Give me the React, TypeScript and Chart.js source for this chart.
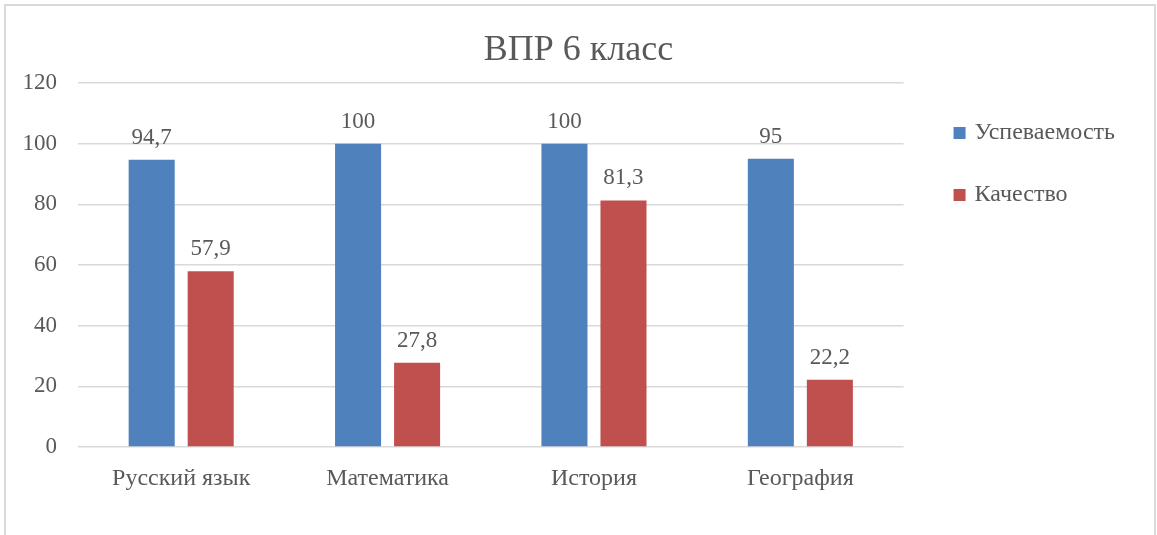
import React, { useEffect, useRef } from "react";
import { Chart, registerables } from "chart.js";

Chart.register(...registerables);

const categories = ["Русский язык", "Математика", "История", "География"];
const uspevaemost = [94.7, 100, 100, 95];
const kachestvo = [57.9, 27.8, 81.3, 22.2];
const seriesNames = ["Успеваемость", "Качество"];
const yTicks = [0, 20, 40, 60, 80, 100, 120];
const titleText = "ВПР 6 класс";

const FONT = "'Liberation Serif', 'Times New Roman', serif";
const TEXT = "#595959";
const LEGEND_GAP = 15;

const fmt = (v: number) => String(v).replace(".", ",");

const dataLabels = {
  id: "dataLabels",
  afterDatasetsDraw(chart: any) {
    const ctx = chart.ctx;
    ctx.save();
    ctx.font = `23px ${FONT}`;
    ctx.fillStyle = TEXT;
    ctx.textAlign = "center";
    ctx.textBaseline = "alphabetic";
    chart.data.datasets.forEach((ds: any, i: number) => {
      const meta = chart.getDatasetMeta(i);
      meta.data.forEach((el: any, j: number) => {
        ctx.fillText(fmt(ds.data[j]), el.x, el.y - 16);
      });
    });
    ctx.restore();
  },
};

const layoutTweak = {
  id: "layoutTweak",
  afterLayout(chart: any) {
    const lg = chart.legend;
    if (lg) {
      lg.left += LEGEND_GAP;
      lg.right += LEGEND_GAP;
    }
    const tb = chart.titleBlock;
    if (tb) {
      tb.left = 0;
      tb.right = chart.width;
      tb.width = chart.width;
    }
  },
};

export default function App() {
  const ref = useRef<HTMLCanvasElement>(null);
  useEffect(() => {
    document.body.style.margin = "0";
    const chart = new Chart(ref.current!, {
      type: "bar",
      data: {
        labels: categories,
        datasets: [
          { label: seriesNames[0], data: uspevaemost, backgroundColor: "#4f81bd", categoryPercentage: 0.572, barPercentage: 0.78 },
          { label: seriesNames[1], data: kachestvo, backgroundColor: "#c0504d", categoryPercentage: 0.572, barPercentage: 0.78 },
        ],
      },
      options: {
        responsive: false,
        animation: false,
        devicePixelRatio: 1,
        layout: { padding: { left: 0, right: 47, top: 0, bottom: 0 } },
        plugins: {
          tooltip: { enabled: false },
          title: {
            display: true,
            text: titleText,
            color: TEXT,
            font: { family: FONT, size: 36, weight: "normal" },
            padding: { top: 29, bottom: 10.8 },
          },
          legend: {
            position: "right",
            align: "start",
            fullSize: false,
            labels: {
              usePointStyle: true,
              pointStyle: "rect",
              boxWidth: 6,
              boxHeight: 12,
              padding: 38,
              color: TEXT,
              font: { family: FONT, size: 24 },
            },
          },
        },
        scales: {
          x: {
            grid: { display: false },
            border: { display: false },
            ticks: { color: TEXT, font: { family: FONT, size: 24 }, padding: 9, maxRotation: 0 },
            afterFit: (s: any) => { s.height = 88; },
          },
          y: {
            min: 0,
            max: 120,
            afterBuildTicks: (s: any) => { s.ticks = yTicks.map((v) => ({ value: v })); },
            grid: { color: "#d9d9d9", lineWidth: 1.5, drawTicks: false },
            border: { display: false },
            ticks: { color: TEXT, font: { family: FONT, size: 23 }, padding: 21 },
            afterFit: (s: any) => { s.width = 78; },
          },
        },
      },
      plugins: [dataLabels, layoutTweak],
    });
    return () => chart.destroy();
  }, []);
  return (
    <div style={{ position: "relative", width: 1157, height: 535, overflow: "hidden", background: "#fff" }}>
      <div style={{ position: "absolute", left: 4, top: 4, width: 1152, height: 600, borderTop: "2px solid #d9d9d9", borderLeft: "2px solid #d9d9d9", borderRight: "2px solid #d9d9d9", boxSizing: "border-box" }} />
      <canvas ref={ref} width={1157} height={535} style={{ position: "absolute", left: 0, top: 0 }} />
    </div>
  );
}
